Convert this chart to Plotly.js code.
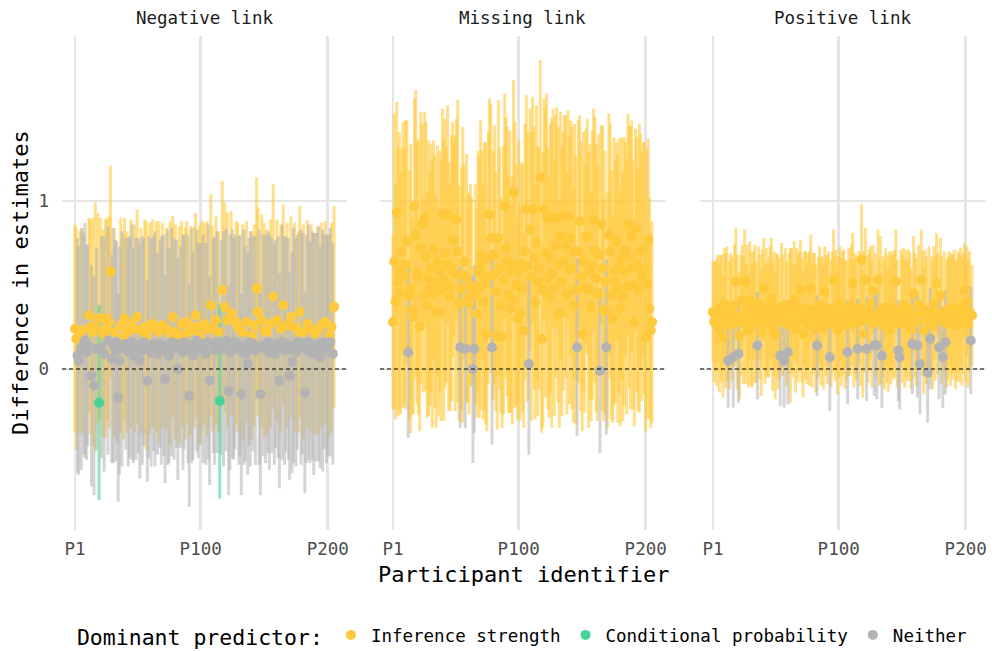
<!DOCTYPE html>
<html>
<head>
<meta charset="utf-8">
<script src="https://cdn.plot.ly/plotly-3.0.1.min.js"></script>
<style>html,body{margin:0;padding:0;background:#fff;}</style>
</head>
<body>
<div id="chart" style="width:992px;height:651px;"></div>
<script>
// ---------- DATA (values in hundredths) ----------
const panels = ["Negative link", "Missing link", "Positive link"];
const categories = ["Inference strength", "Conditional probability", "Neither"];
const tick_vals = [1, 100, 200];
const tick_text = ["P1", "P100", "P200"];

// Negative link: category code per participant (0 = Inference strength, 1 = Conditional probability, 2 = Neither)
const neg_cat = [
0,0,2,2,0,2,0,2,2,2, 2,0,0,2,0,2,0,2,0,1, 0,2,0,2,0,0,2,0,0,2, 2,0,2,2,2,2,0,2,0,0,
2,0,2,2,0,2,2,0,2,0, 2,2,0,2,2,0,0,2,2,0, 2,0,2,2,0,2,0,2,2,0, 2,2,0,2,2,0,2,0,2,0,
2,2,0,2,0,2,2,0,0,2, 2,0,2,2,0,0,2,2,0,2, 0,2,0,2,0,2,2,0,0,2, 2,0,2,0,1,2,0,2,0,2,
0,2,2,0,2,2,2,0,0,2, 2,2,0,2,2,0,2,2,2,0, 2,0,2,0,0,2,2,0,2,0, 2,0,2,2,0,2,0,2,2,0,
2,2,0,2,0,2,2,0,2,2, 0,2,2,0,2,2,0,0,2,2, 0,2,2,0,2,2,0,2,2,0, 2,0,2,2,0,2,2,0,2,2,
0,2,0,2,0];
const neg_est = [
24,18,8,5,22,12,23,15,17,10, 14,32,25,-4,22,-10,25,12,30,-20, 30,13,21,9,24,30,17,28,58,6,
14,22,11,16,-17,5,26,12,19,30, 15,22,10,13,27,16,8,24,12,31, 14,5,23,11,16,25,20,-7,13,24,
10,27,15,12,25,9,22,15,11,26, 14,-6,24,13,8,21,16,31,12,22, 15,0,20,13,27,10,16,21,28,12,
-16,23,14,8,25,32,17,11,20,15, 26,12,27,9,24,16,-7,38,24,14, 11,29,16,22,-19,13,47,12,37,17,
29,-13,10,33,15,12,16,28,25,11, 14,-15,22,13,9,28,3,16,12,20, 15,26,11,48,34,13,-15,29,14,23,
12,22,16,10,27,14,43,9,15,29, 13,-7,24,16,38,11,15,26,12,-4, 31,4,14,25,10,16,22,34,13,15,
22,-14,12,27,16,10,24,14,9,21, 13,23,15,7,26,11,16,28,12,14, 20,16,25,9,37];
const neg_hw = [
62,66,70,68,60,72,61,66,70,64, 60,58,64,66,68,65,74,60,63,58, 60,66,62,70,65,60,68,63,63,62,
70,62,66,60,62,68,64,70,61,60, 63,60,68,66,62,70,64,62,66,64, 64,70,61,68,62,64,68,60,66,63,
68,62,64,70,63,60,66,62,68,61, 66,62,60,70,64,67,68,60,66,64, 62,66,65,60,61,70,64,63,60,68,
66,62,70,62,60,61,66,64,65,60, 62,68,60,66,64,70,62,66,61,64, 68,62,66,60,58,64,65,70,62,66,
64,62,70,61,68,66,64,60,62,68, 66,60,64,70,64,60,66,62,70,62, 64,60,68,66,62,70,60,63,66,64,
68,61,66,70,62,64,67,66,62,60, 66,64,62,70,60,68,64,61,66,62, 60,66,70,62,68,64,60,63,70,66,
64,60,68,62,70,66,62,68,72,60, 68,62,70,66,61,72,64,60,68,66, 60,68,62,66,60];

// Missing link
const miss_est = [
28,64,40,93,52,58,45,70,62,55, 62,76,10,44,48,35,31,97,80,57, 55,25,72,86,44,90,67,38,54,48,
60,45,71,52,34,64,34,58,47,92, 53,69,62,92,49,43,60,77,77,57, 89,70,39,13,48,56,64,12,54,42,
39,50,46,0,12,44,33,58,49,62, 68,40,55,51,21,66,92,78,13,56, 68,46,20,78,60,38,19,53,97,72,
64,44,58,36,41,105,62,50,30,58, 33,62,48,23,70,95,61,3,83,55, 95,66,40,75,52,60,114,18,47,95,
69,90,54,43,66,57,90,48,73,90, 62,33,79,52,64,91,73,45,91,59, 78,60,38,70,47,13,70,88,55,21,
64,48,79,79,47,58,37,62,89,71, 54,45,68,-1,86,60,35,52,13,35, 80,70,44,30,58,52,76,48,61,36,
66,43,58,71,49,86,67,60,79,50, 28,83,62,47,60,70,55,71,60,19, 51,77,36,23,28];
const miss_hw = [
52,88,70,66,80,83,72,62,85,76, 86,72,51,74,86,62,58,64,86,78, 82,62,81,60,58,63,80,67,82,70,
74,80,65,75,69,69,62,72,78,63, 84,80,70,65,74,68,79,70,58,82, 60,90,70,48,72,88,58,47,74,62,
66,60,56,56,50,66,62,72,78,86, 62,70,80,84,58,75,69,80,58,74, 77,71,56,82,72,64,54,80,67,78,
80,70,84,62,74,67,85,72,60,78, 64,61,74,58,76,68,80,54,72,86, 67,78,70,82,80,72,70,56,82,66,
86,74,78,72,80,92,65,76,78,66, 82,68,74,80,77,60,78,72,63,80, 70,84,70,76,80,53,78,63,80,58,
77,74,64,70,82,76,68,80,66,79, 80,76,72,49,59,85,66,78,52,70, 72,76,74,62,80,72,59,80,76,70,
72,74,80,64,76,66,78,84,69,74, 62,60,76,72,86,70,74,64,75,56, 80,60,66,58,60];
const miss_neither_ids = [13, 54, 58, 64, 65, 79, 108, 146, 164, 169];

// Positive link
const pos_est = [
34,28,31,28,36,24,33,30,19,39, 29,33,5,26,35,30,7,38,52,28, 9,20,32,41,29,52,27,36,23,41,
30,26,38,33,28,14,39,31,22,36, 48,27,34,29,31,37,42,25,33,20, 35,28,30,8,37,32,5,38,27,10,
33,26,35,29,41,24,38,30,34,47, 29,21,36,32,27,35,30,48,26,33, 35,24,14,31,38,28,33,25,46,32,
29,36,7,27,34,53,30,35,23,31, 39,28,33,36,26,29,10,34,31,38, 51,27,33,30,12,36,28,65,21,34,
53,12,30,35,39,27,47,14,32,14, 53,28,35,8,31,26,37,30,23,34, 29,36,31,33,52,27,11,7,35,30,
38,27,33,29,36,31,24,15,45,32, 28,14,38,3,53,33,23,35,29,-2, 34,18,31,26,39,30,51,33,13,44,
29,7,34,16,27,30,36,28,33,31, 35,26,29,34,30,37,28,33,47,30, 40,27,34,17,32];
const pos_hw = [
30,36,33,38,32,38,35,38,36,33, 40,40,28,38,34,37,30,36,32,40, 29,38,36,33,38,31,36,38,34,35,
40,37,32,41,36,32,34,37,38,35, 30,36,38,34,36,36,36,38,37,38, 34,40,36,30,38,36,28,34,37,31,
36,46,37,34,35,38,34,38,36,30, 37,38,34,38,36,34,40,32,37,36, 34,38,30,36,35,38,34,37,27,36,
38,34,32,38,36,30,37,36,38,36, 34,38,37,35,38,36,31,38,35,36, 30,38,36,37,30,34,38,33,38,36,
31,31,38,36,34,38,27,30,37,32, 30,38,44,31,36,38,35,38,37,36, 38,34,37,38,31,38,30,31,36,38,
34,38,38,36,35,38,36,30,34,37, 38,31,36,30,30,37,38,36,38,30, 39,30,36,38,34,37,30,36,31,34,
38,30,36,31,38,37,34,38,36,37, 36,38,36,36,38,35,38,36,28,38, 33,38,36,32,30];
const pos_neither_ids = [13,17,21,36,54,57,60,83,93,107,115,122,128,130,134,147,148,158,162,164,170,172,179,182,184,204];

// ---------- BUILD ----------
const N = neg_est.length;
const ids = Array.from({length: N}, (_, k) => k + 1);
function catsFromIds(neitherIds) {
  return ids.map(i => neitherIds.includes(i) ? 2 : 0);
}
const panelData = [
  {est: neg_est, hw: neg_hw, cat: neg_cat},
  {est: miss_est, hw: miss_hw, cat: catsFromIds(miss_neither_ids)},
  {est: pos_est, hw: pos_hw, cat: catsFromIds(pos_neither_ids)}
];

const pointColor = ["#FFC93C", "#45D497", "#B3B3B3"];
const barColor = ["rgba(255,201,60,0.6)", "rgba(69,212,151,0.6)", "rgba(178,178,178,0.55)"];
const drawOrder = [0, 2, 1];

const traces = [];
panelData.forEach((p, k) => {
  const xa = k === 0 ? "x" : "x" + (k + 1);
  const ya = k === 0 ? "y" : "y" + (k + 1);
  drawOrder.forEach(c => {
    const sel = ids.filter((_, j) => p.cat[j] === c);
    if (!sel.length) return;
    traces.push({
      type: "scatter", mode: "markers", xaxis: xa, yaxis: ya,
      x: sel, y: sel.map(i => p.est[i - 1] / 100),
      marker: {size: 1, color: "rgba(0,0,0,0)"},
      error_y: {type: "data", symmetric: true, array: sel.map(i => p.hw[i - 1] / 100),
                color: barColor[c], thickness: 3, width: 0, visible: true},
      showlegend: false, hoverinfo: "skip"
    });
  });
  drawOrder.forEach(c => {
    const sel = ids.filter((_, j) => p.cat[j] === c);
    if (!sel.length) return;
    traces.push({
      type: "scatter", mode: "markers", xaxis: xa, yaxis: ya,
      x: sel, y: sel.map(i => p.est[i - 1] / 100),
      marker: {size: 10, color: pointColor[c]},
      name: categories[c], legendrank: c + 1,
      showlegend: k === 0
    });
  });
});

const FONT = "DejaVu Sans Mono, monospace";
const gridC = "#E5E5E5";
function xAxis(domain, anchor) {
  return {domain: domain, anchor: anchor, range: [-9.2, 215.2], tickvals: tick_vals, ticktext: tick_text,
    showgrid: true, gridcolor: gridC, gridwidth: 2.5, zeroline: false, showline: false, ticks: "",
    tickfont: {family: FONT, size: 17.5, color: "#4D4D4D"}, ticklabelstandoff: 6, automargin: false};
}
function yAxis(anchor, labels) {
  return {anchor: anchor, range: [-0.958, 1.982], tickvals: [0, 1], ticktext: ["0", "1"],
    showticklabels: labels, showgrid: true, gridcolor: gridC, gridwidth: 2.5, zeroline: false,
    showline: false, ticks: "", tickfont: {family: FONT, size: 17.5, color: "#4D4D4D"},
    ticklabelstandoff: 12, automargin: false};
}
const doms = [[0, 0.3088], [0.3445, 0.6533], [0.6912, 1]];

const shapes = ["x", "x2", "x3"].map((xa, k) => ({
  type: "line", xref: xa + " domain", x0: 0, x1: 1, yref: k === 0 ? "y" : "y" + (k + 1), y0: 0, y1: 0,
  line: {color: "#000", width: 1, dash: "4px,3px"}, layer: "above"
}));

const annotations = panels.map((t, k) => ({
  text: t, xref: "paper", yref: "paper", x: (doms[k][0] + doms[k][1]) / 2, y: 1.036,
  xanchor: "center", yanchor: "middle", showarrow: false,
  font: {family: FONT, size: 17.5, color: "#1A1A1A"}
}));
annotations.push({text: "Participant identifier", xref: "paper", yref: "paper", x: 0.5, y: -0.091,
  xanchor: "center", yanchor: "middle", showarrow: false, font: {family: FONT, size: 22, color: "#000"}});
annotations.push({text: "Difference in estimates", xref: "paper", yref: "paper", x: -0.0455, y: 0.5,
  xanchor: "center", yanchor: "middle", textangle: -90, showarrow: false, font: {family: FONT, size: 22, color: "#000"}});

const layout = {
  width: 992, height: 651,
  margin: {l: 62, r: 7, t: 36, b: 121, autoexpand: false},
  paper_bgcolor: "#fff", plot_bgcolor: "#fff",
  font: {family: FONT, color: "#000"},
  xaxis: xAxis(doms[0], "y"), xaxis2: xAxis(doms[1], "y2"), xaxis3: xAxis(doms[2], "y3"),
  yaxis: yAxis("x", true), yaxis2: Object.assign(yAxis("x2", false), {matches: "y"}),
  yaxis3: Object.assign(yAxis("x3", false), {matches: "y"}),
  shapes: shapes, annotations: annotations,
  showlegend: true,
  legend: {orientation: "h", x: 0.014, xanchor: "left", y: -0.2146, yanchor: "middle",
    title: {text: "Dominant predictor:", side: "left", font: {family: FONT, size: 21.5, color: "#000"}},
    font: {family: FONT, size: 17.5, color: "#000"}, bgcolor: "rgba(0,0,0,0)",
    tracegroupgap: 0, itemwidth: 30},
  hovermode: false
};

Plotly.newPlot("chart", traces, layout, {staticPlot: true, displayModeBar: false});
</script>
</body>
</html>
